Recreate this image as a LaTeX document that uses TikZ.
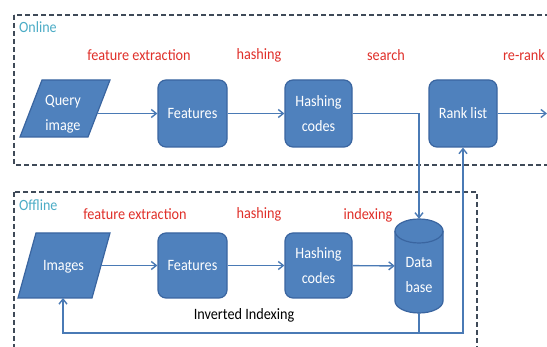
\documentclass[tikz,border=0pt]{standalone}
\usepackage{fontspec}
\setmainfont{Carlito}[FakeStretch=0.9]
\usetikzlibrary{arrows.meta,calc}
\definecolor{boxfill}{HTML}{4F81BD}
\definecolor{boxline}{HTML}{3A65A0}
\definecolor{arrowc}{HTML}{4A7AB5}
\definecolor{dashc}{HTML}{3F4A58}
\definecolor{labred}{HTML}{E0302A}
\definecolor{tealc}{HTML}{4BACC6}
\tikzset{
  boxfont/.style={font=\fontsize{15.8}{25}\selectfont},
  blockbox/.style={draw=boxline, fill=boxfill, line width=1.2pt, rounded corners=8pt,
    text=white, align=center, inner sep=0pt, boxfont},
  shapefill/.style={draw=boxline, fill=boxfill, line width=1.2pt},
  whitetext/.style={text=white, align=center, inner sep=0pt, boxfont},
  arr/.style={draw=arrowc, line width=1.4pt, -{Straight Barb[length=5pt,width=8pt]}},
  region/.style={draw=dashc, line width=1.4pt, dash pattern=on 5pt off 3pt},
  redlab/.style={text=labred, font=\fontsize{15.8}{18}\selectfont, inner sep=0pt},
  regionlab/.style={text=tealc, font=\fontsize{15.6}{18}\selectfont, inner sep=0pt, anchor=west},
}
\begin{document}
\begin{tikzpicture}[x=1pt,y=-1pt]
\useasboundingbox (0,0) rectangle (547,347);
\fill[white] (0,0) rectangle (547,347);
\clip (0,0) rectangle (547,347);
% regions
\draw[region] (14,15) rectangle (600,165);
\draw[region] (14,192) rectangle (477,400);
\node[regionlab] (lon) at (19,27) {Online};
\node[regionlab] (loff) at (19,205) {Offline};
% online row
\path[shapefill] (20,137) -- (88,137) -- (110,80) -- (42,80) -- cycle;
\node[whitetext] (q) at (63,114) {Query\\image};
\coordinate (qe) at (97,113.5);
\node[blockbox, minimum width=69pt, minimum height=67pt] (f1) at (192.5,113.5) {Features};
\node[blockbox, minimum width=67pt, minimum height=67pt] (h1) at (318.5,113.5) {Hashing\\codes};
\node[blockbox, minimum width=68pt, minimum height=67pt] (r) at (463,113.5) {Rank list};
% offline row
\path[shapefill] (18,298) -- (92,298) -- (110,233) -- (36,233) -- cycle;
\node[whitetext] (img) at (63.5,267) {Images};
\coordinate (ie) at (101,265.5);
\coordinate (ib) at (63,298);
\node[blockbox, minimum width=69pt, minimum height=65pt] (f2) at (192.5,265.5) {Features};
\node[blockbox, minimum width=67pt, minimum height=65pt] (h2) at (318.5,265.5) {Hashing\\codes};
% database cylinder
\node[inner sep=0pt, minimum width=48pt, minimum height=94pt] (db) at (419,266) {};
\path[shapefill]
  (395,231) -- (395,301) arc[start angle=180, end angle=360, x radius=24pt, y radius=12pt]
  -- (443,231) arc[start angle=0, end angle=180, x radius=24pt, y radius=12pt] -- cycle;
\draw[boxline, line width=1.2pt] (395,231) arc[start angle=180, end angle=360, x radius=24pt, y radius=12pt];
\node[whitetext] (dbt) at (419,275) {Data\\base};
% labels
\node[redlab] (l1) at (139,55) {feature extraction};
\node[redlab] (l2) at (259,55) {hashing};
\node[redlab] (l3) at (386,55) {search};
\node[redlab] (l4) at (524,55) {re-rank};
\node[redlab] (l5) at (135,214) {feature extraction};
\node[redlab] (l6) at (259,214) {hashing};
\node[redlab] (l7) at (368,215) {indexing};
\node[inner sep=0pt, font=\fontsize{15.8}{18}\selectfont] (inv) at (244,315) {Inverted Indexing};
% connectors
\coordinate (rr) at (547,113.5);
\coordinate (ii) at (419,333);
\draw[arr] (qe) -- (f1);
\draw[arr] (f1) -- (h1);
\draw[arr] (h1) -| (db);
\draw[arr] (r) -- (rr);
\draw[arr] (ie) -- (f2);
\draw[arr] (f2) -- (h2);
\draw[arr] (h2) -- (db);
\draw[arr] (db.south) -- (ii) -| (ib);
\draw[arr] (ii) -| (r.south);
\end{tikzpicture}
\end{document}
